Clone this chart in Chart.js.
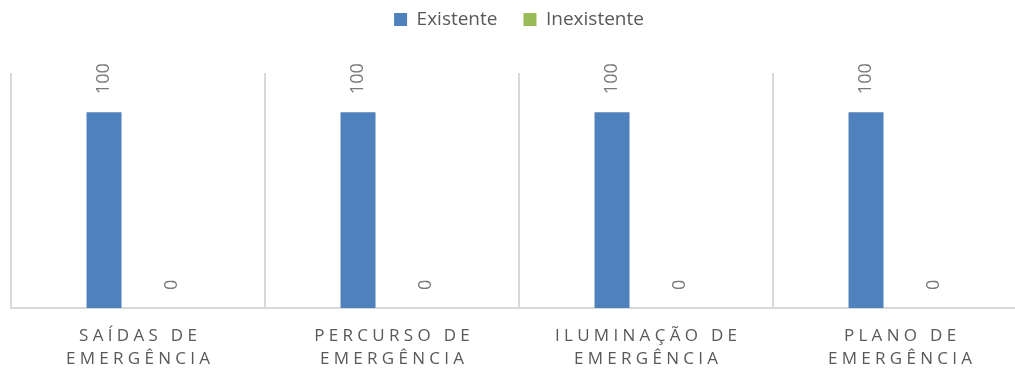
<!DOCTYPE html>
<html>
<head>
<meta charset="utf-8">
<script src="https://cdn.jsdelivr.net/npm/chart.js@4"></script>
<style>
  html, body { margin: 0; padding: 0; overflow: hidden; background: #fff; }
  #wrap { width: 1040px; height: 372px; position: relative; }
</style>
</head>
<body>
<div id="wrap"><canvas id="chart"></canvas></div>
<script>
const categories = [
    ['SAÍDAS DE', 'EMERGÊNCIA'],
    ['PERCURSO DE', 'EMERGÊNCIA'],
    ['ILUMINAÇÃO DE', 'EMERGÊNCIA'],
    ['PLANO DE', 'EMERGÊNCIA']
];
const seriesNames = ['Existente', 'Inexistente'];
const existente = [100, 100, 100, 100];
const inexistente = [0, 0, 0, 0];

const fontName = "'Open Sans', 'Noto Sans', sans-serif";
const textGrey = '#595959';

// rotated value labels above each bar
const valueLabels = {
    id: 'valueLabels',
    afterDatasetsDraw(chart) {
        const ctx = chart.ctx;
        chart.data.datasets.forEach((ds, i) => {
            const meta = chart.getDatasetMeta(i);
            meta.data.forEach((bar, j) => {
                ctx.save();
                ctx.translate(bar.x, bar.y - 18);
                ctx.rotate(-Math.PI / 2);
                ctx.font = '18px ' + fontName;
                ctx.fillStyle = '#7a7a7a';
                ctx.textAlign = 'left';
                ctx.textBaseline = 'middle';
                ctx.fillText(String(ds.data[j]), 0, 0);
                ctx.restore();
            });
        });
    }
};

// spaced-out category labels under the axis
const spacedTicks = {
    id: 'spacedTicks',
    afterDraw(chart) {
        const ctx = chart.ctx;
        const xs = chart.scales.x;
        const sp = 4.3;
        ctx.save();
        ctx.font = '17px ' + fontName;
        ctx.letterSpacing = sp + 'px';
        ctx.fillStyle = textGrey;
        ctx.textAlign = 'center';
        ctx.textBaseline = 'middle';
        categories.forEach((lines, i) => {
            const x = xs.getPixelForValue(i) + sp / 2;
            lines.forEach((t, k) => {
                ctx.fillText(t, x, xs.top + 28 + k * 23.5);
            });
        });
        ctx.restore();
    }
};

const legendSpace = {
    id: 'legendSpace',
    beforeInit(chart) {
        const origFit = chart.legend.fit;
        chart.legend.fit = function () {
            origFit.bind(chart.legend)();
            this.height = 89;
        };
    }
};

new Chart('chart', {
    type: 'bar',
    data: {
        labels: categories,
        datasets: [{
            label: seriesNames[0],
            data: existente,
            backgroundColor: '#4f81bd',
            categoryPercentage: 0.535,
            barPercentage: 0.515
        }, {
            label: seriesNames[1],
            data: inexistente,
            backgroundColor: '#9bbb59',
            categoryPercentage: 0.535,
            barPercentage: 0.515
        }]
    },
    options: {
        responsive: true,
        maintainAspectRatio: false,
        animation: false,
        layout: { padding: { top: -16, left: 11, right: 13, bottom: 0 } },
        plugins: {
            tooltip: { enabled: false },
            legend: {
                position: 'top',
                labels: {
                    boxWidth: 13,
                    boxHeight: 13,
                    padding: 26,
                    color: textGrey,
                    font: { family: fontName, size: 19 }
                }
            }
        },
        scales: {
            x: {
                grid: { color: '#d9d9d9', lineWidth: 2, drawTicks: false, offset: true },
                border: { color: '#d9d9d9', width: 2 },
                ticks: { display: false },
                afterFit(s) { s.height = 64; }
            },
            y: {
                display: false,
                min: 0,
                max: 120
            }
        }
    },
    plugins: [valueLabels, spacedTicks, legendSpace]
});
</script>
</body>
</html>
